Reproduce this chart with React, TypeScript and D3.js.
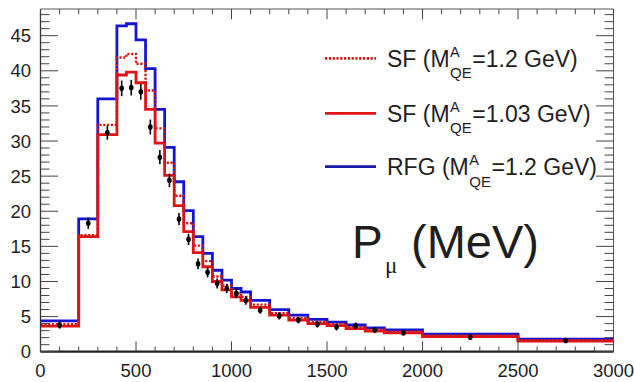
import React, { useLayoutEffect, useRef, useState } from "react";
import * as d3 from "d3";

// Bin edges (MeV)
const binEdges = [0, 200, 300, 400, 450, 500, 550, 600, 650, 700, 750, 800, 850, 900, 950, 1000, 1050, 1100, 1200, 1300, 1400, 1500, 1600, 1700, 1800, 2000, 2500, 3000];

// RFG (M_QE^A = 1.2 GeV) — blue
const rfg12 = [4.4, 18.9, 36.0, 46.4, 46.7, 44.4, 40.3, 34.5, 29.1, 24.2, 20.1, 16.4, 14.0, 11.6, 10.2, 9.0, 8.5, 7.3, 6.0, 5.2, 4.6, 4.2, 3.8, 3.4, 3.1, 2.5, 1.8];
// SF (M_QE^A = 1.03 GeV) — red solid
const sf103 = [3.65, 16.4, 30.9, 39.4, 39.8, 38.3, 34.5, 29.7, 25.1, 20.8, 17.1, 14.1, 12.1, 10.0, 8.8, 7.8, 7.3, 6.3, 5.2, 4.5, 4.0, 3.7, 3.3, 2.95, 2.7, 2.15, 1.5];
// SF (M_QE^A = 1.2 GeV) — red dotted
const sf12 = [3.9, 16.6, 32.3, 41.9, 42.4, 41.0, 37.2, 31.8, 26.9, 22.2, 18.3, 15.1, 12.9, 10.7, 9.4, 8.3, 7.8, 6.7, 5.5, 4.8, 4.25, 3.9, 3.5, 3.15, 2.85, 2.3, 1.65];
// Data points
const dataVals = [3.8, 18.3, 31.2, 37.5, 37.6, 37.0, 32.0, 27.7, 24.4, 18.9, 16.0, 12.5, 11.3, 9.7, 9.0, 8.3, 7.3, 5.9, 5.1, 4.5, 3.9, 3.5, 3.7, 3.1, 2.7, 2.05, 1.6];
const dataErrs = [0.3, 0.6, 0.8, 0.9, 0.9, 0.9, 0.85, 0.8, 0.75, 0.65, 0.6, 0.55, 0.5, 0.5, 0.45, 0.45, 0.4, 0.3, 0.3, 0.25, 0.25, 0.25, 0.25, 0.2, 0.15, 0.1, 0.1];

const xTicks = [0, 500, 1000, 1500, 2000, 2500, 3000];
const yTicks = [0, 5, 10, 15, 20, 25, 30, 35, 40, 45];

const legendLabels = ["SF (M", "SF (M", "RFG (M"];
const legendValues = ["=1.2 GeV)", "=1.03 GeV)", "=1.2 GeV)"];

const W = 634, H = 382;
const X0 = 40.5, X1 = 613.5, Y0 = 351.7, Y1 = 9;

const BLUE = "#1414d2";
const RED = "#e01414";
const DOT = "#cc1a1a";
const TXT = "#1e1e1e";

function LegendEntry({ label, val, color, dash, base }: { label: string; val: string; color: string; dash?: string; base: number }) {
  const labRef = useRef<SVGTextElement>(null);
  const qeRef = useRef<SVGTextElement>(null);
  const [pos, setPos] = useState({ a: 387 + 62, v: 387 + 84 });
  useLayoutEffect(() => {
    const lw = labRef.current ? labRef.current.getComputedTextLength() : 62;
    const qw = qeRef.current ? qeRef.current.getComputedTextLength() : 22;
    const a = 387 + lw + 0.5;
    setPos({ a, v: a + qw + 0.5 });
  }, []);
  const ly = base - 8.4;
  return (
    <g>
      <line x1={325} x2={376} y1={ly} y2={ly} stroke={color} strokeWidth={2.8} strokeDasharray={dash} />
      <text ref={labRef} x={387} y={base} fontSize={23} fill={TXT}>{label}</text>
      <text x={pos.a} y={base - 9.6} fontSize={14.5} fill={TXT}>A</text>
      <text ref={qeRef} x={pos.a} y={base + 11.6} fontSize={15} fill={TXT}>QE</text>
      <text x={pos.v} y={base} fontSize={23} fill={TXT}>{val}</text>
    </g>
  );
}

export default function App() {
  const x = d3.scaleLinear().domain([0, 3000]).range([X0, X1]);
  const y = d3.scaleLinear().domain([0, 48.8]).range([Y0, Y1]);

  const histPath = (vals: number[]) => {
    const pts: [number, number][] = [];
    vals.forEach((v, i) => {
      pts.push([binEdges[i], v]);
      pts.push([binEdges[i + 1], v]);
    });
    return d3.line<[number, number]>().x((d) => x(d[0])).y((d) => y(d[1]))(pts) || "";
  };

  const xMinor = d3.range(0, 3001, 100);
  const yMinor = d3.range(0, 49, 1);
  const xMajLen = 10.3, xMinLen = 5.2, yMajLen = 17.5, yMinLen = 9;
  const font = "'Liberation Sans', Arial, Helvetica, sans-serif";

  const legendColors = [DOT, RED, "#1a1aa8"];
  const legendDash = ["2.2,1.6", undefined, undefined];
  const legendBase = [66.7, 121.7, 175];

  return (
    <svg width={W} height={H} style={{ position: "absolute", left: 0, top: 0, background: "#fff" }} fontFamily={font}>
      <rect x={0} y={0} width={W} height={H} fill="#fff" />
      {/* histograms */}
      <path d={histPath(rfg12)} fill="none" stroke={BLUE} strokeWidth={2.8} />
      <path d={histPath(sf103)} fill="none" stroke={RED} strokeWidth={2.8} />
      <path d={histPath(sf12)} fill="none" stroke={DOT} strokeWidth={2.4} strokeDasharray="2.2,1.6" />
      {/* data points */}
      {dataVals.map((v, i) => {
        const cx = x((binEdges[i] + binEdges[i + 1]) / 2);
        return (
          <g key={i}>
            <line x1={cx} x2={cx} y1={y(v - dataErrs[i]) + 1.5} y2={y(v + dataErrs[i]) - 1.5} stroke="#000" strokeWidth={1.6} />
            <ellipse cx={cx} cy={y(v)} rx={2.3} ry={2.8} fill="#000" />
          </g>
        );
      })}
      {/* frame */}
      <line x1={X0} x2={X1} y1={Y1} y2={Y1} stroke="#555" strokeWidth={1} />
      <line x1={X1} x2={X1} y1={Y1} y2={Y0} stroke="#555" strokeWidth={1} />
      <line x1={X0} x2={X0} y1={Y1} y2={Y0} stroke="#333" strokeWidth={1.3} />
      <line x1={X0} x2={X1} y1={Y0} y2={Y0} stroke="#222" strokeWidth={2.2} />
      {/* x ticks */}
      {xMinor.map((t) => {
        const len = t % 500 === 0 ? xMajLen : xMinLen;
        return (
          <g key={"xt" + t} stroke="#444" strokeWidth={1}>
            <line x1={x(t)} x2={x(t)} y1={Y0} y2={Y0 - len} />
            <line x1={x(t)} x2={x(t)} y1={Y1} y2={Y1 + len} />
          </g>
        );
      })}
      {/* y ticks */}
      {yMinor.map((t) => {
        const len = t % 5 === 0 ? yMajLen : yMinLen;
        return (
          <g key={"yt" + t} stroke="#444" strokeWidth={1}>
            <line x1={X0} x2={X0 + len} y1={y(t)} y2={y(t)} />
            <line x1={X1} x2={X1 - len} y1={y(t)} y2={y(t)} />
          </g>
        );
      })}
      {/* tick labels */}
      {xTicks.map((t) => (
        <text key={"xl" + t} x={x(t)} y={377} fontSize={18.5} textAnchor="middle" fill={TXT}>{t}</text>
      ))}
      {yTicks.map((t) => (
        <text key={"yl" + t} x={31} y={y(t) + 6.6} fontSize={18.5} textAnchor="end" fill={TXT}>{t}</text>
      ))}
      {/* legend */}
      {legendLabels.map((l, i) => (
        <LegendEntry key={"lg" + i} label={l} val={legendValues[i]} color={legendColors[i]} dash={legendDash[i]} base={legendBase[i]} />
      ))}
      {/* axis title */}
      <text x={352} y={258} fontSize={46} fill={TXT}>P</text>
      <text x={385} y={273} fontSize={23} fill={TXT} fontFamily="'Liberation Serif', 'DejaVu Serif', serif">μ</text>
      <text x={411} y={258} fontSize={47} fill={TXT}>(MeV)</text>
    </svg>
  );
}
